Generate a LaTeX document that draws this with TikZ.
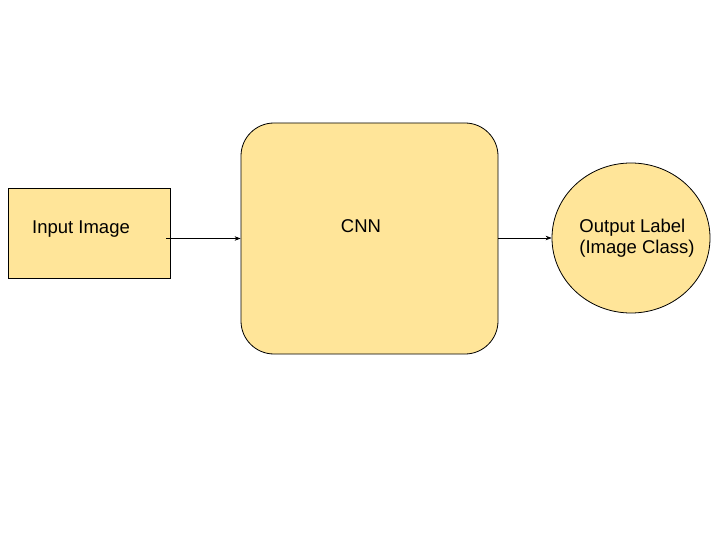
\documentclass[tikz,border=0pt]{standalone}
\usepackage{fontspec}
\setmainfont{Liberation Sans}
\definecolor{BoxYellow}{RGB}{255,229,153}
\usetikzlibrary{
    shapes.geometric,
    arrows.meta,
    positioning,
}

\begin{document}
\begin{tikzpicture}[
    x=1pt, y=-1pt,
    blk/.style={rectangle, draw=black, fill=BoxYellow, line width=0.8pt},
    outl/.style={ellipse, draw=black, fill=BoxYellow, line width=0.8pt, minimum width=158pt, minimum height=150pt, inner sep=0pt},
    txt/.style={font=\fontsize{18.5}{21.5}\selectfont, align=left},
    arr/.style={-{Stealth[length=6pt, width=4.5pt]}, line width=0.6pt, black}
]
    \useasboundingbox (0,0) rectangle (720,540);
    \node[blk, minimum width=162pt, minimum height=90pt] (inp) at (89,233) {};
    \node[txt] (inptxt) at (81,229) {Input Image};
    \node[blk, rounded corners=33pt, minimum width=257pt, minimum height=231pt] (cnn) at (369.5,238.5) {};
    \node[txt] (cnntxt) at (361,226) {CNN};
    \node[outl] (out) at (631,238) {};
    \node[txt] (outtxt) at (637,238) {Output Label\\(Image Class)};
    \draw[arr] ([xshift=-4pt]inp.east |- cnn.west) -- (cnn.west);
    \draw[arr] (cnn.east |- out.west) -- (out.west);
\end{tikzpicture}
\end{document}
